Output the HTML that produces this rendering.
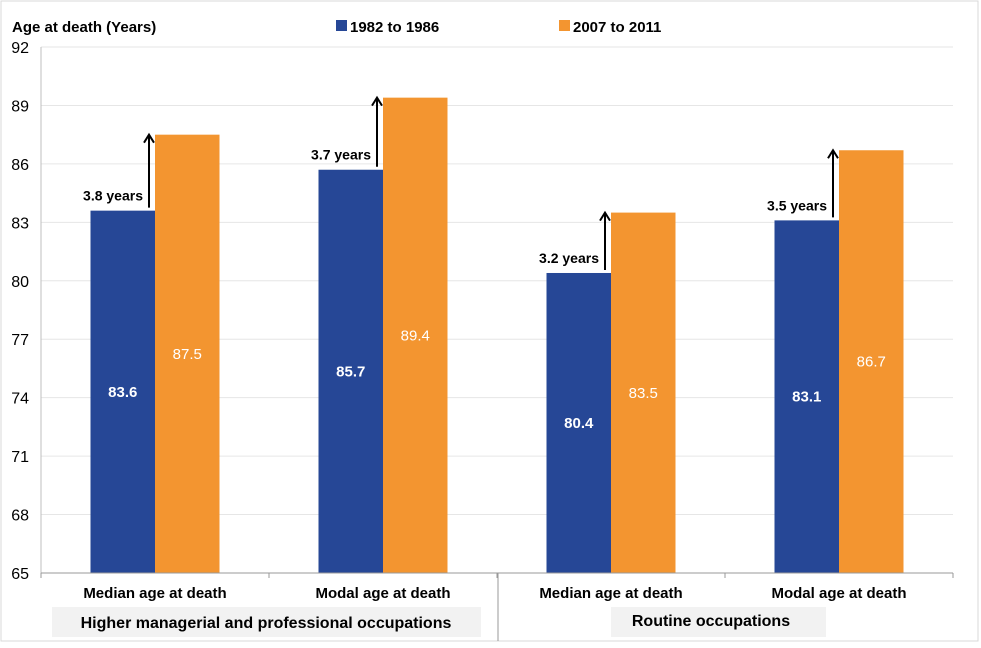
<!DOCTYPE html>
<html><head><meta charset="utf-8"><style>
body{margin:0;background:#fff;font-family:"Liberation Sans",Arial,sans-serif}
</style></head><body>
<svg width="981" height="643" xmlns="http://www.w3.org/2000/svg" font-family="Liberation Sans, Arial, sans-serif">
<rect x="1" y="1" width="977" height="640" fill="#fff" stroke="#d9d9d9"/>
<text x="12" y="32" font-size="15" font-weight="bold" fill="#000">Age at death (Years)</text>
<g id="legend">
<rect x="336" y="20" width="11" height="11" fill="#264796"/>
<text x="350" y="32" font-size="15" font-weight="bold">1982 to 1986</text>
<rect x="559" y="20" width="11" height="11" fill="#f39530"/>
<text x="573" y="32" font-size="15" font-weight="bold">2007 to 2011</text>
</g>
<g id="grid"></g><g id="bars"></g><g id="axes"></g>
<rect x="52" y="607" width="429" height="30" fill="#f2f2f2"/>
<text x="266" y="628" font-size="16" font-weight="bold" text-anchor="middle">Higher managerial and professional occupations</text>
<rect x="611" y="607" width="215" height="30" fill="#f2f2f2"/>
<text x="711" y="626" font-size="16" font-weight="bold" text-anchor="middle">Routine occupations</text>
<line x1="498" y1="573" x2="498" y2="641" stroke="#999"/>
</svg>
<script>
const categories=["Median age at death","Modal age at death","Median age at death","Modal age at death"];
const series1982=[83.6,85.7,80.4,83.1];
const series2007=[87.5,89.4,83.5,86.7];
const gapLabels=["3.8 years","3.7 years","3.2 years","3.5 years"];
const yTicks=[65,68,71,74,77,80,83,86,89,92];
const NS="http://www.w3.org/2000/svg";
const X0=41,GW=228,Y0=573,Y1=47,YMIN=65,YMAX=92,BW=64.5;
function y(v){return Y0-(v-YMIN)/(YMAX-YMIN)*(Y0-Y1);}
function gx(i){return X0+GW*(i+0.5);}
function mk(tag,attrs,parent,txt){const e=document.createElementNS(NS,tag);for(const k in attrs)e.setAttribute(k,attrs[k]);if(txt!==undefined)e.textContent=txt;parent.appendChild(e);return e;}
const grid=document.getElementById('grid'),bars=document.getElementById('bars'),axes=document.getElementById('axes');
yTicks.forEach(t=>{
 if(t!==YMIN){const l=mk('line',{x1:X0,x2:953,y1:y(t),y2:y(t),stroke:'#e6e6e6'},grid);
 
 }
 const tx=mk('text',{x:29,y:y(t)+6,'font-size':16,'text-anchor':'end'},axes,String(t));
 
 
});
const ya=mk('line',{x1:X0,x2:X0,y1:Y1,y2:Y0,stroke:'#bfbfbf'},axes);


const xa=mk('line',{x1:X0,x2:953,y1:Y0,y2:Y0,stroke:'#999'},axes);


for(let i=0;i<=4;i++){const tk=mk('line',{x1:X0+GW*i,x2:X0+GW*i,y1:Y0,y2:Y0+5,stroke:'#999'},axes);
 
 }
categories.forEach((c,i)=>{
 const cx=gx(i);
 const cl=mk('text',{x:cx,y:598,'font-size':15,'font-weight':'bold','text-anchor':'middle'},axes,c);
 
 
 const a=series1982[i],b=series2007[i];
 const r1=mk('rect',{x:cx-BW,y:y(a),width:BW,height:Y0-y(a),fill:'#264796'},bars);
 
 
 const r2=mk('rect',{x:cx,y:y(b),width:BW,height:Y0-y(b),fill:'#f39530'},bars);
 
 
 const v1=mk('text',{x:cx-BW/2,y:(y(a)+Y0)/2+5,'font-size':15,'font-weight':'bold',fill:'#fff','text-anchor':'middle'},bars,a.toFixed(1));
 
 
 const v2=mk('text',{x:cx+BW/2,y:(y(b)+Y0)/2+5,'font-size':15,fill:'#fff','text-anchor':'middle'},bars,b.toFixed(1));
 
 
 const ax=cx-6;
 const ar=mk('path',{d:`M${ax},${y(a)-3} L${ax},${y(b)} M${ax-5},${y(b)+8} L${ax},${y(b)} L${ax+5},${y(b)+8}`,stroke:'#000','stroke-width':2,fill:'none'},bars);
 
 
 const gl=mk('text',{x:ax-6,y:y(a)-10,'font-size':14,'font-weight':'bold','text-anchor':'end'},bars,gapLabels[i]);
 
 
});
</script>
</body></html>
